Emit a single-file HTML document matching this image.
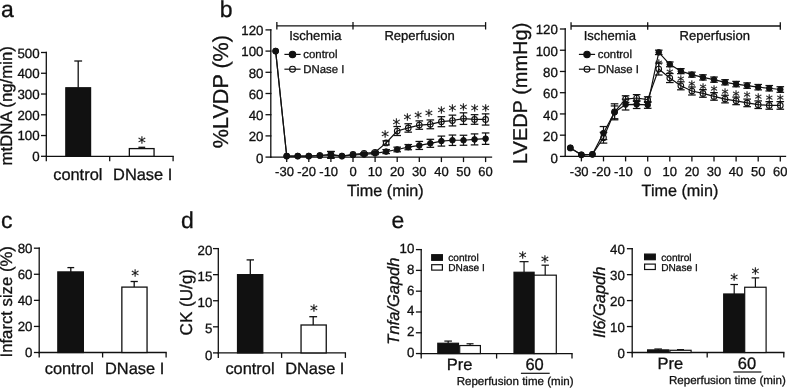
<!DOCTYPE html>
<html lang="en">
<head>
<meta charset="utf-8">
<title>Figure: mtDNA, LVDP, LVEDP, infarct size, CK and cytokine expression</title>
<style>
html,body{margin:0;padding:0;background:#fff;}
body{width:787px;height:388px;overflow:hidden;}
svg{display:block;will-change:transform;filter:grayscale(1);}
text{fill:#111;stroke:#111;stroke-width:0.3px;font-family:"Liberation Sans",Arial,Helvetica,sans-serif;}
line,rect,circle,polyline{stroke:#111;}
text.st{stroke-width:0.2px;font-family:"DejaVu Sans","Liberation Sans",sans-serif;}
</style>
</head>
<body>
<svg width="787" height="388" viewBox="0 0 787 388" text-rendering="geometricPrecision">
<rect x="0" y="0" width="787" height="388" fill="#fff" style="stroke:none"/>
<text x="0.9" y="17" font-size="23">a</text>
<text x="219.7" y="16.9" font-size="23">b</text>
<text x="1" y="228.4" font-size="23">c</text>
<text x="181" y="228.4" font-size="23">d</text>
<text x="391.4" y="228.4" font-size="23">e</text>
<line x1="46.3" y1="51.85" x2="46.3" y2="156.95" stroke-width="1.3"/>
<line x1="41" y1="156.3" x2="46.95" y2="156.3" stroke-width="1.3"/>
<text x="39.6" y="161.16" font-size="13.3" text-anchor="end">0</text>
<line x1="41" y1="135.54" x2="46.95" y2="135.54" stroke-width="1.3"/>
<text x="39.6" y="140.45" font-size="13.3" text-anchor="end">100</text>
<line x1="41" y1="114.78" x2="46.95" y2="114.78" stroke-width="1.3"/>
<text x="39.6" y="119.74" font-size="13.3" text-anchor="end">200</text>
<line x1="41" y1="94.02" x2="46.95" y2="94.02" stroke-width="1.3"/>
<text x="39.6" y="99.03" font-size="13.3" text-anchor="end">300</text>
<line x1="41" y1="73.26" x2="46.95" y2="73.26" stroke-width="1.3"/>
<text x="39.6" y="78.32" font-size="13.3" text-anchor="end">400</text>
<line x1="41" y1="52.5" x2="46.95" y2="52.5" stroke-width="1.3"/>
<text x="39.6" y="57.61" font-size="13.3" text-anchor="end">500</text>
<line x1="45.65" y1="156.3" x2="173.75" y2="156.3" stroke-width="1.3"/>
<line x1="46.3" y1="156.3" x2="46.3" y2="161.3" stroke-width="1.3"/>
<line x1="109.7" y1="156.3" x2="109.7" y2="161.3" stroke-width="1.3"/>
<line x1="173.1" y1="156.3" x2="173.1" y2="161.3" stroke-width="1.3"/>
<rect x="65.85" y="87.79" width="24.7" height="68.51" fill="#111" stroke-width="1.3"/>
<line x1="78.2" y1="61" x2="78.2" y2="87.79" stroke-width="1.3"/>
<line x1="74.3" y1="61" x2="82.1" y2="61" stroke-width="1.3"/>
<line x1="141.8" y1="147.3" x2="141.8" y2="148.6" stroke-width="1.3"/>
<line x1="138.4" y1="147.3" x2="145.2" y2="147.3" stroke-width="1.3"/>
<rect x="129.35" y="148.6" width="24.7" height="7.7" fill="#fff" stroke-width="1.3"/>
<text x="141.8" y="147.71" font-size="15.6" text-anchor="middle" class="st">*</text>
<text x="77.8" y="180.1" font-size="16.4" text-anchor="middle">control</text>
<text x="142.7" y="180.1" font-size="16.4" text-anchor="middle">DNase I</text>
<text x="12.2" y="105.8" font-size="16.8" text-anchor="middle" transform="rotate(-90 12.2 105.8)">mtDNA (ng/min)</text>
<line x1="39.2" y1="247.55" x2="39.2" y2="353.15" stroke-width="1.3"/>
<line x1="33.9" y1="352.5" x2="39.85" y2="352.5" stroke-width="1.3"/>
<text x="32.5" y="356.96" font-size="13.3" text-anchor="end">0</text>
<line x1="33.9" y1="326.43" x2="39.85" y2="326.43" stroke-width="1.3"/>
<text x="32.5" y="331.01" font-size="13.3" text-anchor="end">20</text>
<line x1="33.9" y1="300.35" x2="39.85" y2="300.35" stroke-width="1.3"/>
<text x="32.5" y="305.06" font-size="13.3" text-anchor="end">40</text>
<line x1="33.9" y1="274.27" x2="39.85" y2="274.27" stroke-width="1.3"/>
<text x="32.5" y="279.11" font-size="13.3" text-anchor="end">60</text>
<line x1="33.9" y1="248.2" x2="39.85" y2="248.2" stroke-width="1.3"/>
<text x="32.5" y="253.16" font-size="13.3" text-anchor="end">80</text>
<line x1="38.55" y1="352.5" x2="166.75" y2="352.5" stroke-width="1.3"/>
<line x1="39.2" y1="352.5" x2="39.2" y2="357.5" stroke-width="1.3"/>
<line x1="102.6" y1="352.5" x2="102.6" y2="357.5" stroke-width="1.3"/>
<line x1="166.1" y1="352.5" x2="166.1" y2="357.5" stroke-width="1.3"/>
<rect x="57.85" y="271.93" width="25.5" height="80.57" fill="#111" stroke-width="1.3"/>
<line x1="70.8" y1="267.6" x2="70.8" y2="271.93" stroke-width="1.3"/>
<line x1="67.4" y1="267.6" x2="74.2" y2="267.6" stroke-width="1.3"/>
<line x1="134.2" y1="281.5" x2="134.2" y2="287.1" stroke-width="1.3"/>
<line x1="130.6" y1="281.5" x2="137.8" y2="281.5" stroke-width="1.3"/>
<rect x="121.85" y="287.1" width="25.2" height="65.4" fill="#fff" stroke-width="1.3"/>
<text x="135.2" y="280.51" font-size="15.6" text-anchor="middle" class="st">*</text>
<text x="69.3" y="373.5" font-size="16.4" text-anchor="middle">control</text>
<text x="134.6" y="373.5" font-size="16.4" text-anchor="middle">DNase I</text>
<text x="11.9" y="301.8" font-size="16.7" text-anchor="middle" transform="rotate(-90 11.9 301.8)">Infarct size (%)</text>
<line x1="218.3" y1="247.95" x2="218.3" y2="353.55" stroke-width="1.3"/>
<line x1="213" y1="352.9" x2="218.95" y2="352.9" stroke-width="1.3"/>
<text x="212.4" y="359.56" font-size="13.3" text-anchor="end">0</text>
<line x1="213" y1="326.82" x2="218.95" y2="326.82" stroke-width="1.3"/>
<text x="212.4" y="333.49" font-size="13.3" text-anchor="end">5</text>
<line x1="213" y1="300.75" x2="218.95" y2="300.75" stroke-width="1.3"/>
<text x="212.4" y="307.41" font-size="13.3" text-anchor="end">10</text>
<line x1="213" y1="274.67" x2="218.95" y2="274.67" stroke-width="1.3"/>
<text x="212.4" y="281.34" font-size="13.3" text-anchor="end">15</text>
<line x1="213" y1="248.6" x2="218.95" y2="248.6" stroke-width="1.3"/>
<text x="212.4" y="255.26" font-size="13.3" text-anchor="end">20</text>
<line x1="217.65" y1="352.9" x2="346.05" y2="352.9" stroke-width="1.3"/>
<line x1="218.3" y1="352.9" x2="218.3" y2="357.9" stroke-width="1.3"/>
<line x1="281.6" y1="352.9" x2="281.6" y2="357.9" stroke-width="1.3"/>
<line x1="345.4" y1="352.9" x2="345.4" y2="357.9" stroke-width="1.3"/>
<rect x="237.55" y="274.67" width="25.2" height="78.23" fill="#111" stroke-width="1.3"/>
<line x1="250.3" y1="259.9" x2="250.3" y2="274.67" stroke-width="1.3"/>
<line x1="246.6" y1="259.9" x2="254" y2="259.9" stroke-width="1.3"/>
<line x1="313.2" y1="316.7" x2="313.2" y2="325" stroke-width="1.3"/>
<line x1="309.3" y1="316.7" x2="317.1" y2="316.7" stroke-width="1.3"/>
<rect x="301.05" y="325" width="25.2" height="27.9" fill="#fff" stroke-width="1.3"/>
<text x="313.9" y="316.11" font-size="15.6" text-anchor="middle" class="st">*</text>
<text x="250" y="373.9" font-size="16.4" text-anchor="middle">control</text>
<text x="314.8" y="373.9" font-size="16.4" text-anchor="middle">DNase I</text>
<text x="191.6" y="302.2" font-size="17.1" text-anchor="middle" transform="rotate(-90 191.6 302.2)">CK (U/g)</text>
<line x1="270.8" y1="29.25" x2="270.8" y2="157.75" stroke-width="1.3"/>
<line x1="265.5" y1="157.1" x2="271.45" y2="157.1" stroke-width="1.3"/>
<text x="263.5" y="162.76" font-size="13.3" text-anchor="end">0</text>
<line x1="265.5" y1="135.9" x2="271.45" y2="135.9" stroke-width="1.3"/>
<text x="263.5" y="141.49" font-size="13.3" text-anchor="end">20</text>
<line x1="265.5" y1="114.7" x2="271.45" y2="114.7" stroke-width="1.3"/>
<text x="263.5" y="120.23" font-size="13.3" text-anchor="end">40</text>
<line x1="265.5" y1="93.5" x2="271.45" y2="93.5" stroke-width="1.3"/>
<text x="263.5" y="98.96" font-size="13.3" text-anchor="end">60</text>
<line x1="265.5" y1="72.3" x2="271.45" y2="72.3" stroke-width="1.3"/>
<text x="263.5" y="77.69" font-size="13.3" text-anchor="end">80</text>
<line x1="265.5" y1="51.1" x2="271.45" y2="51.1" stroke-width="1.3"/>
<text x="263.5" y="56.43" font-size="13.3" text-anchor="end">100</text>
<line x1="265.5" y1="29.9" x2="271.45" y2="29.9" stroke-width="1.3"/>
<text x="263.5" y="35.16" font-size="13.3" text-anchor="end">120</text>
<line x1="270.15" y1="157.1" x2="492.15" y2="157.1" stroke-width="1.3"/>
<line x1="286.7" y1="157.1" x2="286.7" y2="162.1" stroke-width="1.3"/>
<line x1="308.8" y1="157.1" x2="308.8" y2="162.1" stroke-width="1.3"/>
<line x1="330.9" y1="157.1" x2="330.9" y2="162.1" stroke-width="1.3"/>
<line x1="353" y1="157.1" x2="353" y2="162.1" stroke-width="1.3"/>
<line x1="375.1" y1="157.1" x2="375.1" y2="162.1" stroke-width="1.3"/>
<line x1="397.2" y1="157.1" x2="397.2" y2="162.1" stroke-width="1.3"/>
<line x1="419.3" y1="157.1" x2="419.3" y2="162.1" stroke-width="1.3"/>
<line x1="441.4" y1="157.1" x2="441.4" y2="162.1" stroke-width="1.3"/>
<line x1="463.5" y1="157.1" x2="463.5" y2="162.1" stroke-width="1.3"/>
<line x1="485.6" y1="157.1" x2="485.6" y2="162.1" stroke-width="1.3"/>
<text x="284.5" y="176.3" font-size="13" text-anchor="middle">-30</text>
<text x="306.6" y="176.3" font-size="13" text-anchor="middle">-20</text>
<text x="328.7" y="176.3" font-size="13" text-anchor="middle">-10</text>
<text x="353" y="176.3" font-size="13" text-anchor="middle">0</text>
<text x="375.1" y="176.3" font-size="13" text-anchor="middle">10</text>
<text x="397.2" y="176.3" font-size="13" text-anchor="middle">20</text>
<text x="419.3" y="176.3" font-size="13" text-anchor="middle">30</text>
<text x="441.4" y="176.3" font-size="13" text-anchor="middle">40</text>
<text x="463.5" y="176.3" font-size="13" text-anchor="middle">50</text>
<text x="485.6" y="176.3" font-size="13" text-anchor="middle">60</text>
<text x="385.27" y="196.2" font-size="16.2" text-anchor="middle">Time (min)</text>
<text x="227.6" y="91.6" font-size="21.6" text-anchor="middle" transform="rotate(-90 227.6 91.6)">%LVDP (%)</text>
<line x1="276.85" y1="25.8" x2="485.6" y2="25.8" stroke-width="1.3"/>
<line x1="276.85" y1="22.1" x2="276.85" y2="29.5" stroke-width="1.3"/>
<line x1="353" y1="22.1" x2="353" y2="29.5" stroke-width="1.3"/>
<line x1="485.6" y1="22.1" x2="485.6" y2="29.5" stroke-width="1.3"/>
<text x="289.2" y="40" font-size="13.05">Ischemia</text>
<text x="384.4" y="40" font-size="13.05">Reperfusion</text>
<line x1="284.4" y1="54.4" x2="300.6" y2="54.4" stroke-width="1.2"/>
<circle cx="292.5" cy="54.4" r="3.2" fill="#111" stroke-width="1.1"/>
<text x="303.3" y="57.7" font-size="11.4">control</text>
<line x1="284.4" y1="69.2" x2="300.6" y2="69.2" stroke-width="1.2"/>
<circle cx="292.5" cy="69.2" r="2.9" fill="none" stroke-width="1.1"/>
<text x="303.3" y="72.5" font-size="11.4">DNase I</text>
<polyline points="275.65,51.1 286.7,156.04 297.75,156.04 308.8,156.04 319.85,155.51 330.9,154.45 341.95,156.04 353,154.45 364.05,153.39 375.1,152.33 386.15,142.9 397.2,131.02 408.25,127.95 419.3,125.09 430.35,124.35 441.4,121.7 452.45,120.53 463.5,118.62 474.55,119.47 485.6,119.47" fill="none" stroke-width="1.2" stroke-linejoin="round"/>
<circle cx="275.65" cy="51.1" r="2.8" fill="none" stroke-width="1.1"/>
<circle cx="286.7" cy="156.04" r="2.8" fill="none" stroke-width="1.1"/>
<circle cx="297.75" cy="156.04" r="2.8" fill="none" stroke-width="1.1"/>
<circle cx="308.8" cy="156.04" r="2.8" fill="none" stroke-width="1.1"/>
<circle cx="319.85" cy="155.51" r="2.8" fill="none" stroke-width="1.1"/>
<line x1="330.9" y1="151.45" x2="330.9" y2="157.45" stroke-width="1.2"/>
<line x1="327.1" y1="151.45" x2="334.7" y2="151.45" stroke-width="1.25"/>
<line x1="327.1" y1="157.45" x2="334.7" y2="157.45" stroke-width="1.25"/>
<circle cx="330.9" cy="154.45" r="2.8" fill="none" stroke-width="1.1"/>
<circle cx="341.95" cy="156.04" r="2.8" fill="none" stroke-width="1.1"/>
<circle cx="353" cy="154.45" r="2.8" fill="none" stroke-width="1.1"/>
<line x1="364.05" y1="152.59" x2="364.05" y2="154.19" stroke-width="1.2"/>
<line x1="360.25" y1="152.59" x2="367.85" y2="152.59" stroke-width="1.25"/>
<line x1="360.25" y1="154.19" x2="367.85" y2="154.19" stroke-width="1.25"/>
<circle cx="364.05" cy="153.39" r="2.8" fill="none" stroke-width="1.1"/>
<line x1="375.1" y1="151.33" x2="375.1" y2="153.33" stroke-width="1.2"/>
<line x1="371.3" y1="151.33" x2="378.9" y2="151.33" stroke-width="1.25"/>
<line x1="371.3" y1="153.33" x2="378.9" y2="153.33" stroke-width="1.25"/>
<circle cx="375.1" cy="152.33" r="2.8" fill="none" stroke-width="1.1"/>
<line x1="386.15" y1="140.9" x2="386.15" y2="144.9" stroke-width="1.2"/>
<line x1="382.35" y1="140.9" x2="389.95" y2="140.9" stroke-width="1.25"/>
<line x1="382.35" y1="144.9" x2="389.95" y2="144.9" stroke-width="1.25"/>
<circle cx="386.15" cy="142.9" r="2.8" fill="none" stroke-width="1.1"/>
<line x1="397.2" y1="126.52" x2="397.2" y2="135.52" stroke-width="1.2"/>
<line x1="393.4" y1="126.52" x2="401" y2="126.52" stroke-width="1.25"/>
<line x1="393.4" y1="135.52" x2="401" y2="135.52" stroke-width="1.25"/>
<circle cx="397.2" cy="131.02" r="2.8" fill="none" stroke-width="1.1"/>
<line x1="408.25" y1="123.75" x2="408.25" y2="132.15" stroke-width="1.2"/>
<line x1="404.45" y1="123.75" x2="412.05" y2="123.75" stroke-width="1.25"/>
<line x1="404.45" y1="132.15" x2="412.05" y2="132.15" stroke-width="1.25"/>
<circle cx="408.25" cy="127.95" r="2.8" fill="none" stroke-width="1.1"/>
<line x1="419.3" y1="120.89" x2="419.3" y2="129.29" stroke-width="1.2"/>
<line x1="415.5" y1="120.89" x2="423.1" y2="120.89" stroke-width="1.25"/>
<line x1="415.5" y1="129.29" x2="423.1" y2="129.29" stroke-width="1.25"/>
<circle cx="419.3" cy="125.09" r="2.8" fill="none" stroke-width="1.1"/>
<line x1="430.35" y1="119.95" x2="430.35" y2="128.75" stroke-width="1.2"/>
<line x1="426.55" y1="119.95" x2="434.15" y2="119.95" stroke-width="1.25"/>
<line x1="426.55" y1="128.75" x2="434.15" y2="128.75" stroke-width="1.25"/>
<circle cx="430.35" cy="124.35" r="2.8" fill="none" stroke-width="1.1"/>
<line x1="441.4" y1="116.7" x2="441.4" y2="126.7" stroke-width="1.2"/>
<line x1="437.6" y1="116.7" x2="445.2" y2="116.7" stroke-width="1.25"/>
<line x1="437.6" y1="126.7" x2="445.2" y2="126.7" stroke-width="1.25"/>
<circle cx="441.4" cy="121.7" r="2.8" fill="none" stroke-width="1.1"/>
<line x1="452.45" y1="115.13" x2="452.45" y2="125.93" stroke-width="1.2"/>
<line x1="448.65" y1="115.13" x2="456.25" y2="115.13" stroke-width="1.25"/>
<line x1="448.65" y1="125.93" x2="456.25" y2="125.93" stroke-width="1.25"/>
<circle cx="452.45" cy="120.53" r="2.8" fill="none" stroke-width="1.1"/>
<line x1="463.5" y1="112.82" x2="463.5" y2="124.42" stroke-width="1.2"/>
<line x1="459.7" y1="112.82" x2="467.3" y2="112.82" stroke-width="1.25"/>
<line x1="459.7" y1="124.42" x2="467.3" y2="124.42" stroke-width="1.25"/>
<circle cx="463.5" cy="118.62" r="2.8" fill="none" stroke-width="1.1"/>
<line x1="474.55" y1="114.67" x2="474.55" y2="124.27" stroke-width="1.2"/>
<line x1="470.75" y1="114.67" x2="478.35" y2="114.67" stroke-width="1.25"/>
<line x1="470.75" y1="124.27" x2="478.35" y2="124.27" stroke-width="1.25"/>
<circle cx="474.55" cy="119.47" r="2.8" fill="none" stroke-width="1.1"/>
<line x1="485.6" y1="113.87" x2="485.6" y2="125.07" stroke-width="1.2"/>
<line x1="481.8" y1="113.87" x2="489.4" y2="113.87" stroke-width="1.25"/>
<line x1="481.8" y1="125.07" x2="489.4" y2="125.07" stroke-width="1.25"/>
<circle cx="485.6" cy="119.47" r="2.8" fill="none" stroke-width="1.1"/>
<polyline points="275.65,51.1 286.7,156.04 297.75,156.04 308.8,156.04 319.85,155.51 330.9,154.98 341.95,156.04 353,154.98 364.05,154.45 375.1,153.39 386.15,151.59 397.2,149.47 408.25,147.14 419.3,145.44 430.35,143.32 441.4,141.09 452.45,140.25 463.5,140.25 474.55,139.4 485.6,138.66" fill="none" stroke-width="1.2" stroke-linejoin="round"/>
<circle cx="275.65" cy="51.1" r="2.8" fill="#111" stroke-width="1"/>
<circle cx="286.7" cy="156.04" r="2.8" fill="#111" stroke-width="1"/>
<circle cx="297.75" cy="156.04" r="2.8" fill="#111" stroke-width="1"/>
<circle cx="308.8" cy="156.04" r="2.8" fill="#111" stroke-width="1"/>
<circle cx="319.85" cy="155.51" r="2.8" fill="#111" stroke-width="1"/>
<line x1="330.9" y1="151.58" x2="330.9" y2="158.38" stroke-width="1.2"/>
<line x1="327.1" y1="151.58" x2="334.7" y2="151.58" stroke-width="1.25"/>
<line x1="327.1" y1="158.38" x2="334.7" y2="158.38" stroke-width="1.25"/>
<circle cx="330.9" cy="154.98" r="2.8" fill="#111" stroke-width="1"/>
<circle cx="341.95" cy="156.04" r="2.8" fill="#111" stroke-width="1"/>
<circle cx="353" cy="154.98" r="2.8" fill="#111" stroke-width="1"/>
<line x1="364.05" y1="153.65" x2="364.05" y2="155.25" stroke-width="1.2"/>
<line x1="360.25" y1="153.65" x2="367.85" y2="153.65" stroke-width="1.25"/>
<line x1="360.25" y1="155.25" x2="367.85" y2="155.25" stroke-width="1.25"/>
<circle cx="364.05" cy="154.45" r="2.8" fill="#111" stroke-width="1"/>
<line x1="375.1" y1="152.19" x2="375.1" y2="154.59" stroke-width="1.2"/>
<line x1="371.3" y1="152.19" x2="378.9" y2="152.19" stroke-width="1.25"/>
<line x1="371.3" y1="154.59" x2="378.9" y2="154.59" stroke-width="1.25"/>
<circle cx="375.1" cy="153.39" r="2.8" fill="#111" stroke-width="1"/>
<line x1="386.15" y1="149.59" x2="386.15" y2="153.59" stroke-width="1.2"/>
<line x1="382.35" y1="149.59" x2="389.95" y2="149.59" stroke-width="1.25"/>
<line x1="382.35" y1="153.59" x2="389.95" y2="153.59" stroke-width="1.25"/>
<circle cx="386.15" cy="151.59" r="2.8" fill="#111" stroke-width="1"/>
<line x1="397.2" y1="147.17" x2="397.2" y2="151.77" stroke-width="1.2"/>
<line x1="393.4" y1="147.17" x2="401" y2="147.17" stroke-width="1.25"/>
<line x1="393.4" y1="151.77" x2="401" y2="151.77" stroke-width="1.25"/>
<circle cx="397.2" cy="149.47" r="2.8" fill="#111" stroke-width="1"/>
<line x1="408.25" y1="144.54" x2="408.25" y2="149.74" stroke-width="1.2"/>
<line x1="404.45" y1="144.54" x2="412.05" y2="144.54" stroke-width="1.25"/>
<line x1="404.45" y1="149.74" x2="412.05" y2="149.74" stroke-width="1.25"/>
<circle cx="408.25" cy="147.14" r="2.8" fill="#111" stroke-width="1"/>
<line x1="419.3" y1="141.44" x2="419.3" y2="149.44" stroke-width="1.2"/>
<line x1="415.5" y1="141.44" x2="423.1" y2="141.44" stroke-width="1.25"/>
<line x1="415.5" y1="149.44" x2="423.1" y2="149.44" stroke-width="1.25"/>
<circle cx="419.3" cy="145.44" r="2.8" fill="#111" stroke-width="1"/>
<line x1="430.35" y1="139.32" x2="430.35" y2="147.32" stroke-width="1.2"/>
<line x1="426.55" y1="139.32" x2="434.15" y2="139.32" stroke-width="1.25"/>
<line x1="426.55" y1="147.32" x2="434.15" y2="147.32" stroke-width="1.25"/>
<circle cx="430.35" cy="143.32" r="2.8" fill="#111" stroke-width="1"/>
<line x1="441.4" y1="136.09" x2="441.4" y2="146.09" stroke-width="1.2"/>
<line x1="437.6" y1="136.09" x2="445.2" y2="136.09" stroke-width="1.25"/>
<line x1="437.6" y1="146.09" x2="445.2" y2="146.09" stroke-width="1.25"/>
<circle cx="441.4" cy="141.09" r="2.8" fill="#111" stroke-width="1"/>
<line x1="452.45" y1="135.05" x2="452.45" y2="145.45" stroke-width="1.2"/>
<line x1="448.65" y1="135.05" x2="456.25" y2="135.05" stroke-width="1.25"/>
<line x1="448.65" y1="145.45" x2="456.25" y2="145.45" stroke-width="1.25"/>
<circle cx="452.45" cy="140.25" r="2.8" fill="#111" stroke-width="1"/>
<line x1="463.5" y1="135.25" x2="463.5" y2="145.25" stroke-width="1.2"/>
<line x1="459.7" y1="135.25" x2="467.3" y2="135.25" stroke-width="1.25"/>
<line x1="459.7" y1="145.25" x2="467.3" y2="145.25" stroke-width="1.25"/>
<circle cx="463.5" cy="140.25" r="2.8" fill="#111" stroke-width="1"/>
<line x1="474.55" y1="133.9" x2="474.55" y2="144.9" stroke-width="1.2"/>
<line x1="470.75" y1="133.9" x2="478.35" y2="133.9" stroke-width="1.25"/>
<line x1="470.75" y1="144.9" x2="478.35" y2="144.9" stroke-width="1.25"/>
<circle cx="474.55" cy="139.4" r="2.8" fill="#111" stroke-width="1"/>
<line x1="485.6" y1="132.96" x2="485.6" y2="144.36" stroke-width="1.2"/>
<line x1="481.8" y1="132.96" x2="489.4" y2="132.96" stroke-width="1.25"/>
<line x1="481.8" y1="144.36" x2="489.4" y2="144.36" stroke-width="1.25"/>
<circle cx="485.6" cy="138.66" r="2.8" fill="#111" stroke-width="1"/>
<text x="385.05" y="141.91" font-size="15.6" text-anchor="middle" class="st">*</text>
<text x="396.32" y="129.61" font-size="15.6" text-anchor="middle" class="st">*</text>
<text x="407.37" y="125.01" font-size="15.6" text-anchor="middle" class="st">*</text>
<text x="418.19" y="122.61" font-size="15.6" text-anchor="middle" class="st">*</text>
<text x="429.02" y="120.91" font-size="15.6" text-anchor="middle" class="st">*</text>
<text x="441.4" y="118.31" font-size="15.6" text-anchor="middle" class="st">*</text>
<text x="452.45" y="116.41" font-size="15.6" text-anchor="middle" class="st">*</text>
<text x="463.5" y="114.81" font-size="15.6" text-anchor="middle" class="st">*</text>
<text x="474.55" y="116.41" font-size="15.6" text-anchor="middle" class="st">*</text>
<text x="485.6" y="116.01" font-size="15.6" text-anchor="middle" class="st">*</text>
<line x1="565.2" y1="28.35" x2="565.2" y2="157.05" stroke-width="1.3"/>
<line x1="559.9" y1="156.4" x2="565.85" y2="156.4" stroke-width="1.3"/>
<text x="557.9" y="162.76" font-size="13.3" text-anchor="end">0</text>
<line x1="559.9" y1="135.17" x2="565.85" y2="135.17" stroke-width="1.3"/>
<text x="557.9" y="141.33" font-size="13.3" text-anchor="end">20</text>
<line x1="559.9" y1="113.93" x2="565.85" y2="113.93" stroke-width="1.3"/>
<text x="557.9" y="119.89" font-size="13.3" text-anchor="end">40</text>
<line x1="559.9" y1="92.7" x2="565.85" y2="92.7" stroke-width="1.3"/>
<text x="557.9" y="98.46" font-size="13.3" text-anchor="end">60</text>
<line x1="559.9" y1="71.47" x2="565.85" y2="71.47" stroke-width="1.3"/>
<text x="557.9" y="77.03" font-size="13.3" text-anchor="end">80</text>
<line x1="559.9" y1="50.23" x2="565.85" y2="50.23" stroke-width="1.3"/>
<text x="557.9" y="55.59" font-size="13.3" text-anchor="end">100</text>
<line x1="559.9" y1="29" x2="565.85" y2="29" stroke-width="1.3"/>
<text x="557.9" y="34.16" font-size="13.3" text-anchor="end">120</text>
<line x1="564.55" y1="156.4" x2="786.15" y2="156.4" stroke-width="1.3"/>
<line x1="581.4" y1="156.4" x2="581.4" y2="161.4" stroke-width="1.3"/>
<line x1="603.5" y1="156.4" x2="603.5" y2="161.4" stroke-width="1.3"/>
<line x1="625.6" y1="156.4" x2="625.6" y2="161.4" stroke-width="1.3"/>
<line x1="647.7" y1="156.4" x2="647.7" y2="161.4" stroke-width="1.3"/>
<line x1="669.8" y1="156.4" x2="669.8" y2="161.4" stroke-width="1.3"/>
<line x1="691.9" y1="156.4" x2="691.9" y2="161.4" stroke-width="1.3"/>
<line x1="714" y1="156.4" x2="714" y2="161.4" stroke-width="1.3"/>
<line x1="736.1" y1="156.4" x2="736.1" y2="161.4" stroke-width="1.3"/>
<line x1="758.2" y1="156.4" x2="758.2" y2="161.4" stroke-width="1.3"/>
<line x1="780.3" y1="156.4" x2="780.3" y2="161.4" stroke-width="1.3"/>
<text x="579.2" y="176.3" font-size="13" text-anchor="middle">-30</text>
<text x="601.3" y="176.3" font-size="13" text-anchor="middle">-20</text>
<text x="623.4" y="176.3" font-size="13" text-anchor="middle">-10</text>
<text x="647.7" y="176.3" font-size="13" text-anchor="middle">0</text>
<text x="669.8" y="176.3" font-size="13" text-anchor="middle">10</text>
<text x="691.9" y="176.3" font-size="13" text-anchor="middle">20</text>
<text x="714" y="176.3" font-size="13" text-anchor="middle">30</text>
<text x="736.1" y="176.3" font-size="13" text-anchor="middle">40</text>
<text x="758.2" y="176.3" font-size="13" text-anchor="middle">50</text>
<text x="780.3" y="176.3" font-size="13" text-anchor="middle">60</text>
<text x="679.97" y="196.2" font-size="16.2" text-anchor="middle">Time (min)</text>
<text x="527" y="93.4" font-size="20" text-anchor="middle" transform="rotate(-90 527 93.4)">LVEDP (mmHg)</text>
<line x1="571.05" y1="26" x2="780.3" y2="26" stroke-width="1.3"/>
<line x1="571.05" y1="22.3" x2="571.05" y2="29.7" stroke-width="1.3"/>
<line x1="647.7" y1="22.3" x2="647.7" y2="29.7" stroke-width="1.3"/>
<line x1="780.3" y1="22.3" x2="780.3" y2="29.7" stroke-width="1.3"/>
<text x="583.7" y="40" font-size="13.05">Ischemia</text>
<text x="679.6" y="40" font-size="13.05">Reperfusion</text>
<line x1="578.9" y1="54.4" x2="595.1" y2="54.4" stroke-width="1.2"/>
<circle cx="587" cy="54.4" r="3.2" fill="#111" stroke-width="1.1"/>
<text x="597.8" y="57.7" font-size="11.4">control</text>
<line x1="578.9" y1="69.2" x2="595.1" y2="69.2" stroke-width="1.2"/>
<circle cx="587" cy="69.2" r="2.9" fill="none" stroke-width="1.1"/>
<text x="597.8" y="72.5" font-size="11.4">DNase I</text>
<polyline points="570.35,147.91 581.4,154.81 592.45,154.28 603.5,137.71 614.55,111.81 625.6,99.07 636.65,98.01 647.7,99.6 658.75,69.02 669.8,78.05 680.85,85.8 691.9,91 702.95,93.44 714,96.42 725.05,99.07 736.1,100.87 747.15,102.89 758.2,104.7 769.25,105.44 780.3,105.44" fill="none" stroke-width="1.2" stroke-linejoin="round"/>
<circle cx="570.35" cy="147.91" r="2.8" fill="none" stroke-width="1.1"/>
<circle cx="581.4" cy="154.81" r="2.8" fill="none" stroke-width="1.1"/>
<circle cx="592.45" cy="154.28" r="2.8" fill="none" stroke-width="1.1"/>
<line x1="603.5" y1="132.31" x2="603.5" y2="143.11" stroke-width="1.2"/>
<line x1="599.7" y1="132.31" x2="607.3" y2="132.31" stroke-width="1.25"/>
<line x1="599.7" y1="143.11" x2="607.3" y2="143.11" stroke-width="1.25"/>
<circle cx="603.5" cy="137.71" r="2.8" fill="none" stroke-width="1.1"/>
<line x1="614.55" y1="103.81" x2="614.55" y2="119.81" stroke-width="1.2"/>
<line x1="610.75" y1="103.81" x2="618.35" y2="103.81" stroke-width="1.25"/>
<line x1="610.75" y1="119.81" x2="618.35" y2="119.81" stroke-width="1.25"/>
<circle cx="614.55" cy="111.81" r="2.8" fill="none" stroke-width="1.1"/>
<line x1="625.6" y1="95.77" x2="625.6" y2="102.37" stroke-width="1.2"/>
<line x1="621.8" y1="95.77" x2="629.4" y2="95.77" stroke-width="1.25"/>
<line x1="621.8" y1="102.37" x2="629.4" y2="102.37" stroke-width="1.25"/>
<circle cx="625.6" cy="99.07" r="2.8" fill="none" stroke-width="1.1"/>
<line x1="636.65" y1="94.61" x2="636.65" y2="101.41" stroke-width="1.2"/>
<line x1="632.85" y1="94.61" x2="640.45" y2="94.61" stroke-width="1.25"/>
<line x1="632.85" y1="101.41" x2="640.45" y2="101.41" stroke-width="1.25"/>
<circle cx="636.65" cy="98.01" r="2.8" fill="none" stroke-width="1.1"/>
<line x1="647.7" y1="96.8" x2="647.7" y2="102.4" stroke-width="1.2"/>
<line x1="643.9" y1="96.8" x2="651.5" y2="96.8" stroke-width="1.25"/>
<line x1="643.9" y1="102.4" x2="651.5" y2="102.4" stroke-width="1.25"/>
<circle cx="647.7" cy="99.6" r="2.8" fill="none" stroke-width="1.1"/>
<line x1="658.75" y1="63.02" x2="658.75" y2="75.02" stroke-width="1.2"/>
<line x1="654.95" y1="63.02" x2="662.55" y2="63.02" stroke-width="1.25"/>
<line x1="654.95" y1="75.02" x2="662.55" y2="75.02" stroke-width="1.25"/>
<circle cx="658.75" cy="69.02" r="2.8" fill="none" stroke-width="1.1"/>
<line x1="669.8" y1="73.55" x2="669.8" y2="82.55" stroke-width="1.2"/>
<line x1="666" y1="73.55" x2="673.6" y2="73.55" stroke-width="1.25"/>
<line x1="666" y1="82.55" x2="673.6" y2="82.55" stroke-width="1.25"/>
<circle cx="669.8" cy="78.05" r="2.8" fill="none" stroke-width="1.1"/>
<line x1="680.85" y1="81.8" x2="680.85" y2="89.8" stroke-width="1.2"/>
<line x1="677.05" y1="81.8" x2="684.65" y2="81.8" stroke-width="1.25"/>
<line x1="677.05" y1="89.8" x2="684.65" y2="89.8" stroke-width="1.25"/>
<circle cx="680.85" cy="85.8" r="2.8" fill="none" stroke-width="1.1"/>
<line x1="691.9" y1="87" x2="691.9" y2="95" stroke-width="1.2"/>
<line x1="688.1" y1="87" x2="695.7" y2="87" stroke-width="1.25"/>
<line x1="688.1" y1="95" x2="695.7" y2="95" stroke-width="1.25"/>
<circle cx="691.9" cy="91" r="2.8" fill="none" stroke-width="1.1"/>
<line x1="702.95" y1="89.64" x2="702.95" y2="97.24" stroke-width="1.2"/>
<line x1="699.15" y1="89.64" x2="706.75" y2="89.64" stroke-width="1.25"/>
<line x1="699.15" y1="97.24" x2="706.75" y2="97.24" stroke-width="1.25"/>
<circle cx="702.95" cy="93.44" r="2.8" fill="none" stroke-width="1.1"/>
<line x1="714" y1="92.62" x2="714" y2="100.22" stroke-width="1.2"/>
<line x1="710.2" y1="92.62" x2="717.8" y2="92.62" stroke-width="1.25"/>
<line x1="710.2" y1="100.22" x2="717.8" y2="100.22" stroke-width="1.25"/>
<circle cx="714" cy="96.42" r="2.8" fill="none" stroke-width="1.1"/>
<line x1="725.05" y1="95.27" x2="725.05" y2="102.87" stroke-width="1.2"/>
<line x1="721.25" y1="95.27" x2="728.85" y2="95.27" stroke-width="1.25"/>
<line x1="721.25" y1="102.87" x2="728.85" y2="102.87" stroke-width="1.25"/>
<circle cx="725.05" cy="99.07" r="2.8" fill="none" stroke-width="1.1"/>
<line x1="736.1" y1="97.07" x2="736.1" y2="104.67" stroke-width="1.2"/>
<line x1="732.3" y1="97.07" x2="739.9" y2="97.07" stroke-width="1.25"/>
<line x1="732.3" y1="104.67" x2="739.9" y2="104.67" stroke-width="1.25"/>
<circle cx="736.1" cy="100.87" r="2.8" fill="none" stroke-width="1.1"/>
<line x1="747.15" y1="99.09" x2="747.15" y2="106.69" stroke-width="1.2"/>
<line x1="743.35" y1="99.09" x2="750.95" y2="99.09" stroke-width="1.25"/>
<line x1="743.35" y1="106.69" x2="750.95" y2="106.69" stroke-width="1.25"/>
<circle cx="747.15" cy="102.89" r="2.8" fill="none" stroke-width="1.1"/>
<line x1="758.2" y1="100.9" x2="758.2" y2="108.5" stroke-width="1.2"/>
<line x1="754.4" y1="100.9" x2="762" y2="100.9" stroke-width="1.25"/>
<line x1="754.4" y1="108.5" x2="762" y2="108.5" stroke-width="1.25"/>
<circle cx="758.2" cy="104.7" r="2.8" fill="none" stroke-width="1.1"/>
<line x1="769.25" y1="101.64" x2="769.25" y2="109.24" stroke-width="1.2"/>
<line x1="765.45" y1="101.64" x2="773.05" y2="101.64" stroke-width="1.25"/>
<line x1="765.45" y1="109.24" x2="773.05" y2="109.24" stroke-width="1.25"/>
<circle cx="769.25" cy="105.44" r="2.8" fill="none" stroke-width="1.1"/>
<line x1="780.3" y1="101.64" x2="780.3" y2="109.24" stroke-width="1.2"/>
<line x1="776.5" y1="101.64" x2="784.1" y2="101.64" stroke-width="1.25"/>
<line x1="776.5" y1="109.24" x2="784.1" y2="109.24" stroke-width="1.25"/>
<circle cx="780.3" cy="105.44" r="2.8" fill="none" stroke-width="1.1"/>
<polyline points="570.35,147.91 581.4,154.81 592.45,154.28 603.5,133.04 614.55,112.34 625.6,104.59 636.65,104.38 647.7,104.91 658.75,52.36 669.8,64.35 680.85,71.15 691.9,74.65 702.95,77.41 714,79.64 725.05,82.3 736.1,84.1 747.15,85.59 758.2,87.18 769.25,88.24 780.3,89.52" fill="none" stroke-width="1.2" stroke-linejoin="round"/>
<circle cx="570.35" cy="147.91" r="2.8" fill="#111" stroke-width="1"/>
<circle cx="581.4" cy="154.81" r="2.8" fill="#111" stroke-width="1"/>
<circle cx="592.45" cy="154.28" r="2.8" fill="#111" stroke-width="1"/>
<line x1="603.5" y1="126.54" x2="603.5" y2="139.54" stroke-width="1.2"/>
<line x1="599.7" y1="126.54" x2="607.3" y2="126.54" stroke-width="1.25"/>
<line x1="599.7" y1="139.54" x2="607.3" y2="139.54" stroke-width="1.25"/>
<circle cx="603.5" cy="133.04" r="2.8" fill="#111" stroke-width="1"/>
<line x1="614.55" y1="105.94" x2="614.55" y2="118.74" stroke-width="1.2"/>
<line x1="610.75" y1="105.94" x2="618.35" y2="105.94" stroke-width="1.25"/>
<line x1="610.75" y1="118.74" x2="618.35" y2="118.74" stroke-width="1.25"/>
<circle cx="614.55" cy="112.34" r="2.8" fill="#111" stroke-width="1"/>
<line x1="625.6" y1="99.19" x2="625.6" y2="109.99" stroke-width="1.2"/>
<line x1="621.8" y1="99.19" x2="629.4" y2="99.19" stroke-width="1.25"/>
<line x1="621.8" y1="109.99" x2="629.4" y2="109.99" stroke-width="1.25"/>
<circle cx="625.6" cy="104.59" r="2.8" fill="#111" stroke-width="1"/>
<line x1="636.65" y1="100.28" x2="636.65" y2="108.48" stroke-width="1.2"/>
<line x1="632.85" y1="100.28" x2="640.45" y2="100.28" stroke-width="1.25"/>
<line x1="632.85" y1="108.48" x2="640.45" y2="108.48" stroke-width="1.25"/>
<circle cx="636.65" cy="104.38" r="2.8" fill="#111" stroke-width="1"/>
<line x1="647.7" y1="101.51" x2="647.7" y2="108.31" stroke-width="1.2"/>
<line x1="643.9" y1="101.51" x2="651.5" y2="101.51" stroke-width="1.25"/>
<line x1="643.9" y1="108.31" x2="651.5" y2="108.31" stroke-width="1.25"/>
<circle cx="647.7" cy="104.91" r="2.8" fill="#111" stroke-width="1"/>
<line x1="658.75" y1="50.16" x2="658.75" y2="54.56" stroke-width="1.2"/>
<line x1="654.95" y1="50.16" x2="662.55" y2="50.16" stroke-width="1.25"/>
<line x1="654.95" y1="54.56" x2="662.55" y2="54.56" stroke-width="1.25"/>
<circle cx="658.75" cy="52.36" r="2.8" fill="#111" stroke-width="1"/>
<line x1="669.8" y1="61.95" x2="669.8" y2="66.75" stroke-width="1.2"/>
<line x1="666" y1="61.95" x2="673.6" y2="61.95" stroke-width="1.25"/>
<line x1="666" y1="66.75" x2="673.6" y2="66.75" stroke-width="1.25"/>
<circle cx="669.8" cy="64.35" r="2.8" fill="#111" stroke-width="1"/>
<line x1="680.85" y1="68.65" x2="680.85" y2="73.65" stroke-width="1.2"/>
<line x1="677.05" y1="68.65" x2="684.65" y2="68.65" stroke-width="1.25"/>
<line x1="677.05" y1="73.65" x2="684.65" y2="73.65" stroke-width="1.25"/>
<circle cx="680.85" cy="71.15" r="2.8" fill="#111" stroke-width="1"/>
<line x1="691.9" y1="72.15" x2="691.9" y2="77.15" stroke-width="1.2"/>
<line x1="688.1" y1="72.15" x2="695.7" y2="72.15" stroke-width="1.25"/>
<line x1="688.1" y1="77.15" x2="695.7" y2="77.15" stroke-width="1.25"/>
<circle cx="691.9" cy="74.65" r="2.8" fill="#111" stroke-width="1"/>
<line x1="702.95" y1="74.81" x2="702.95" y2="80.01" stroke-width="1.2"/>
<line x1="699.15" y1="74.81" x2="706.75" y2="74.81" stroke-width="1.25"/>
<line x1="699.15" y1="80.01" x2="706.75" y2="80.01" stroke-width="1.25"/>
<circle cx="702.95" cy="77.41" r="2.8" fill="#111" stroke-width="1"/>
<line x1="714" y1="77.04" x2="714" y2="82.24" stroke-width="1.2"/>
<line x1="710.2" y1="77.04" x2="717.8" y2="77.04" stroke-width="1.25"/>
<line x1="710.2" y1="82.24" x2="717.8" y2="82.24" stroke-width="1.25"/>
<circle cx="714" cy="79.64" r="2.8" fill="#111" stroke-width="1"/>
<line x1="725.05" y1="79.7" x2="725.05" y2="84.9" stroke-width="1.2"/>
<line x1="721.25" y1="79.7" x2="728.85" y2="79.7" stroke-width="1.25"/>
<line x1="721.25" y1="84.9" x2="728.85" y2="84.9" stroke-width="1.25"/>
<circle cx="725.05" cy="82.3" r="2.8" fill="#111" stroke-width="1"/>
<line x1="736.1" y1="81.4" x2="736.1" y2="86.8" stroke-width="1.2"/>
<line x1="732.3" y1="81.4" x2="739.9" y2="81.4" stroke-width="1.25"/>
<line x1="732.3" y1="86.8" x2="739.9" y2="86.8" stroke-width="1.25"/>
<circle cx="736.1" cy="84.1" r="2.8" fill="#111" stroke-width="1"/>
<line x1="747.15" y1="82.89" x2="747.15" y2="88.29" stroke-width="1.2"/>
<line x1="743.35" y1="82.89" x2="750.95" y2="82.89" stroke-width="1.25"/>
<line x1="743.35" y1="88.29" x2="750.95" y2="88.29" stroke-width="1.25"/>
<circle cx="747.15" cy="85.59" r="2.8" fill="#111" stroke-width="1"/>
<line x1="758.2" y1="84.48" x2="758.2" y2="89.88" stroke-width="1.2"/>
<line x1="754.4" y1="84.48" x2="762" y2="84.48" stroke-width="1.25"/>
<line x1="754.4" y1="89.88" x2="762" y2="89.88" stroke-width="1.25"/>
<circle cx="758.2" cy="87.18" r="2.8" fill="#111" stroke-width="1"/>
<line x1="769.25" y1="85.54" x2="769.25" y2="90.94" stroke-width="1.2"/>
<line x1="765.45" y1="85.54" x2="773.05" y2="85.54" stroke-width="1.25"/>
<line x1="765.45" y1="90.94" x2="773.05" y2="90.94" stroke-width="1.25"/>
<circle cx="769.25" cy="88.24" r="2.8" fill="#111" stroke-width="1"/>
<line x1="780.3" y1="86.72" x2="780.3" y2="92.31" stroke-width="1.2"/>
<line x1="776.5" y1="86.72" x2="784.1" y2="86.72" stroke-width="1.25"/>
<line x1="776.5" y1="92.31" x2="784.1" y2="92.31" stroke-width="1.25"/>
<circle cx="780.3" cy="89.52" r="2.8" fill="#111" stroke-width="1"/>
<text x="658.75" y="70.38" font-size="14.2" text-anchor="middle" class="st">*</text>
<text x="669.8" y="78.58" font-size="14.2" text-anchor="middle" class="st">*</text>
<text x="680.85" y="85.88" font-size="14.2" text-anchor="middle" class="st">*</text>
<text x="691.9" y="91.18" font-size="14.2" text-anchor="middle" class="st">*</text>
<text x="702.95" y="93.98" font-size="14.2" text-anchor="middle" class="st">*</text>
<text x="714" y="95.78" font-size="14.2" text-anchor="middle" class="st">*</text>
<text x="725.05" y="99.18" font-size="14.2" text-anchor="middle" class="st">*</text>
<text x="736.1" y="101.18" font-size="14.2" text-anchor="middle" class="st">*</text>
<text x="747.15" y="102.38" font-size="14.2" text-anchor="middle" class="st">*</text>
<text x="758.2" y="103.98" font-size="14.2" text-anchor="middle" class="st">*</text>
<text x="769.25" y="104.98" font-size="14.2" text-anchor="middle" class="st">*</text>
<text x="780.3" y="105.18" font-size="14.2" text-anchor="middle" class="st">*</text>
<line x1="421.2" y1="248.95" x2="421.2" y2="354.2" stroke-width="1.3"/>
<line x1="415.9" y1="353.55" x2="421.85" y2="353.55" stroke-width="1.3"/>
<text x="414.3" y="357.31" font-size="13.3" text-anchor="end">0</text>
<line x1="415.9" y1="332.76" x2="421.85" y2="332.76" stroke-width="1.3"/>
<text x="414.3" y="336.4" font-size="13.3" text-anchor="end">2</text>
<line x1="415.9" y1="311.97" x2="421.85" y2="311.97" stroke-width="1.3"/>
<text x="414.3" y="315.49" font-size="13.3" text-anchor="end">4</text>
<line x1="415.9" y1="291.18" x2="421.85" y2="291.18" stroke-width="1.3"/>
<text x="414.3" y="294.58" font-size="13.3" text-anchor="end">6</text>
<line x1="415.9" y1="270.39" x2="421.85" y2="270.39" stroke-width="1.3"/>
<text x="414.3" y="273.67" font-size="13.3" text-anchor="end">8</text>
<line x1="415.9" y1="249.6" x2="421.85" y2="249.6" stroke-width="1.3"/>
<text x="414.3" y="252.76" font-size="13.3" text-anchor="end">10</text>
<line x1="420.55" y1="353.55" x2="572.65" y2="353.55" stroke-width="1.3"/>
<line x1="421.2" y1="353.55" x2="421.2" y2="358.55" stroke-width="1.3"/>
<line x1="496.6" y1="353.55" x2="496.6" y2="358.55" stroke-width="1.3"/>
<line x1="572" y1="353.55" x2="572" y2="358.55" stroke-width="1.3"/>
<text x="398.8" y="301.1" font-size="16.5" text-anchor="middle" font-style="italic" transform="rotate(-90 398.8 301.1)">Tnfa/Gapdh</text>
<line x1="448.15" y1="341.08" x2="448.15" y2="343.26" stroke-width="1.2"/>
<line x1="444.35" y1="341.08" x2="451.95" y2="341.08" stroke-width="1.2"/>
<rect x="437.8" y="343.26" width="20.7" height="10.29" fill="#111" stroke-width="1.2"/>
<line x1="470.05" y1="343.78" x2="470.05" y2="345.55" stroke-width="1.2"/>
<line x1="466.55" y1="343.78" x2="473.55" y2="343.78" stroke-width="1.2"/>
<rect x="459.7" y="345.55" width="20.7" height="8" fill="#fff" stroke-width="1.2"/>
<line x1="524.05" y1="261.66" x2="524.05" y2="272.26" stroke-width="1.2"/>
<line x1="519.55" y1="261.66" x2="528.55" y2="261.66" stroke-width="1.2"/>
<rect x="514" y="272.26" width="20.1" height="81.29" fill="#111" stroke-width="1.2"/>
<line x1="545.2" y1="265.19" x2="545.2" y2="275.17" stroke-width="1.2"/>
<line x1="541.5" y1="265.19" x2="548.9" y2="265.19" stroke-width="1.2"/>
<rect x="534.1" y="275.17" width="22.2" height="78.38" fill="#fff" stroke-width="1.2"/>
<text x="522.7" y="263.31" font-size="15.6" text-anchor="middle" class="st">*</text>
<text x="544.9" y="266.61" font-size="15.6" text-anchor="middle" class="st">*</text>
<rect x="431.7" y="254.7" width="10.7" height="5.6" fill="#111" stroke-width="1.2"/>
<rect x="431.7" y="264.7" width="10.7" height="5.4" fill="#fff" stroke-width="1.2"/>
<text x="448.3" y="261.4" font-size="10.15">control</text>
<text x="448.3" y="271.1" font-size="10.15">DNase I</text>
<text x="459.6" y="370.2" font-size="16.5" text-anchor="middle">Pre</text>
<text x="534.6" y="370.2" font-size="16.5" text-anchor="middle">60</text>
<line x1="520.9" y1="373.3" x2="549.7" y2="373.3" stroke-width="1.2"/>
<text x="456.7" y="385.1" font-size="11.55">Reperfusion time (min)</text>
<line x1="632.2" y1="248.05" x2="632.2" y2="353.15" stroke-width="1.3"/>
<line x1="626.9" y1="352.5" x2="632.85" y2="352.5" stroke-width="1.3"/>
<text x="624.9" y="357.61" font-size="13.3" text-anchor="end">0</text>
<line x1="626.9" y1="326.55" x2="632.85" y2="326.55" stroke-width="1.3"/>
<text x="624.9" y="331.82" font-size="13.3" text-anchor="end">10</text>
<line x1="626.9" y1="300.6" x2="632.85" y2="300.6" stroke-width="1.3"/>
<text x="624.9" y="306.04" font-size="13.3" text-anchor="end">20</text>
<line x1="626.9" y1="274.65" x2="632.85" y2="274.65" stroke-width="1.3"/>
<text x="624.9" y="280.25" font-size="13.3" text-anchor="end">30</text>
<line x1="626.9" y1="248.7" x2="632.85" y2="248.7" stroke-width="1.3"/>
<text x="624.9" y="254.46" font-size="13.3" text-anchor="end">40</text>
<line x1="631.55" y1="352.5" x2="784.45" y2="352.5" stroke-width="1.3"/>
<line x1="632.2" y1="352.5" x2="632.2" y2="357.5" stroke-width="1.3"/>
<line x1="707.2" y1="352.5" x2="707.2" y2="357.5" stroke-width="1.3"/>
<line x1="783.8" y1="352.5" x2="783.8" y2="357.5" stroke-width="1.3"/>
<text x="604.7" y="302.3" font-size="16.5" text-anchor="middle" font-style="italic" transform="rotate(-90 604.7 302.3)">Il6/Gapdh</text>
<line x1="658.15" y1="349" x2="658.15" y2="349.9" stroke-width="1.2"/>
<line x1="654.35" y1="349" x2="661.95" y2="349" stroke-width="1.2"/>
<rect x="647.6" y="349.9" width="21.1" height="2.6" fill="#111" stroke-width="1.2"/>
<line x1="680.5" y1="349.65" x2="680.5" y2="350.29" stroke-width="1.2"/>
<line x1="677" y1="349.65" x2="684" y2="349.65" stroke-width="1.2"/>
<rect x="669.9" y="350.29" width="21.2" height="2.21" fill="#fff" stroke-width="1.2"/>
<line x1="734.2" y1="284.51" x2="734.2" y2="293.98" stroke-width="1.2"/>
<line x1="730.4" y1="284.51" x2="738" y2="284.51" stroke-width="1.2"/>
<rect x="723.7" y="293.98" width="21" height="58.52" fill="#111" stroke-width="1.2"/>
<line x1="755.4" y1="277.89" x2="755.4" y2="287.24" stroke-width="1.2"/>
<line x1="751.6" y1="277.89" x2="759.2" y2="277.89" stroke-width="1.2"/>
<rect x="744.7" y="287.24" width="21.4" height="65.26" fill="#fff" stroke-width="1.2"/>
<text x="734.2" y="284.91" font-size="15.6" text-anchor="middle" class="st">*</text>
<text x="755.5" y="278.71" font-size="15.6" text-anchor="middle" class="st">*</text>
<rect x="644.6" y="254.1" width="10.7" height="5.6" fill="#111" stroke-width="1.2"/>
<rect x="644.6" y="264.1" width="10.7" height="5.4" fill="#fff" stroke-width="1.2"/>
<text x="661.2" y="260.8" font-size="10.15">control</text>
<text x="661.2" y="270.5" font-size="10.15">DNase I</text>
<text x="670.3" y="368.9" font-size="16.5" text-anchor="middle">Pre</text>
<text x="747" y="368.9" font-size="16.5" text-anchor="middle">60</text>
<line x1="733.3" y1="372" x2="761.4" y2="372" stroke-width="1.2"/>
<text x="669" y="383.8" font-size="11.55">Reperfusion time (min)</text>
</svg>
</body>
</html>
